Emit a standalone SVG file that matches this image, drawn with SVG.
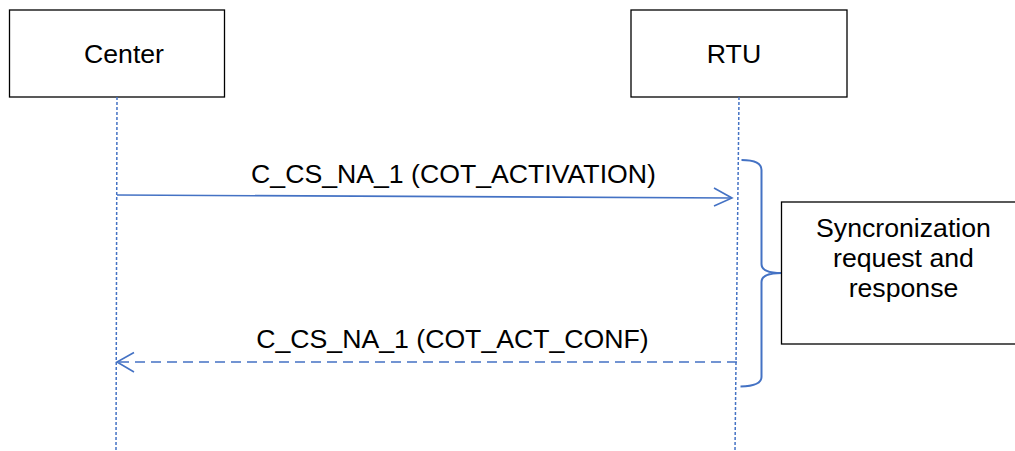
<svg xmlns="http://www.w3.org/2000/svg" width="1015" height="451" viewBox="0 0 1015 451">
<style>
.box{fill:#fff;stroke:#000;stroke-width:1.3}
.t{font-family:"Liberation Sans",Arial,sans-serif;font-size:26.67px;fill:#000;text-anchor:middle}
.life{stroke:#4472C4;stroke-width:1.5;stroke-dasharray:3 2;fill:none}
.msg{stroke:#4472C4;stroke-width:1.6;fill:none}
.dash{stroke-dasharray:10 6}
.brace{stroke:#4472C4;stroke-width:2;fill:none}
</style>
<g id="center">
<rect class="box" x="9.5" y="10" width="215" height="87"/>
<text class="t" x="124" y="63">Center</text>
</g>
<g id="rtu">
<rect class="box" x="631" y="10" width="216" height="87"/>
<text class="t" x="734" y="63">RTU</text>
</g>
<g id="connectors">
<line class="life" x1="117" y1="97" x2="116" y2="451"/>
<line class="life" x1="739" y1="97" x2="735" y2="451"/>
<line class="msg" x1="117" y1="195" x2="732" y2="198"/>
<polyline class="msg" points="714,188 732,198 714,206"/>
<line class="msg dash" x1="737" y1="362" x2="118" y2="362"/>
<polyline class="msg" points="134,352.5 117,362 134,372"/>
<path class="brace" d="M741.5,160 Q761.5,160 761.5,170 L761.5,264 Q761.5,273 781.5,273 Q761.5,273 761.5,282 L761.5,377 Q761.5,386 740.5,386.5"/>
</g>
<g id="lbl-activation"><text class="t" x="453.5" y="183">C_CS_NA_1 (COT_ACTIVATION)</text></g>
<g id="lbl-conf"><text class="t" x="452.5" y="348">C_CS_NA_1 (COT_ACT_CONF)</text></g>
<g id="note">
<rect class="box" x="781.5" y="202" width="245" height="142"/>
<text class="t" x="903.5" y="237">Syncronization</text>
<text class="t" x="903.5" y="267">request and</text>
<text class="t" x="903.5" y="297">response</text>
</g>
</svg>
